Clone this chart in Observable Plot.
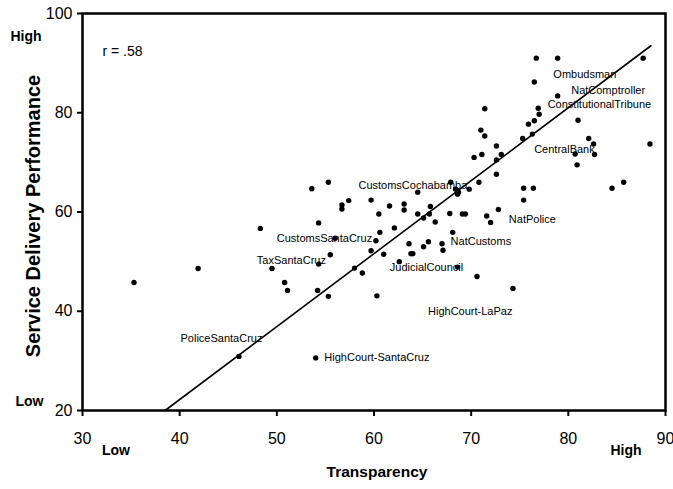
<!DOCTYPE html>
<html><head><meta charset="utf-8">
<script src="https://cdn.jsdelivr.net/npm/d3@7"></script>
<script src="https://cdn.jsdelivr.net/npm/@observablehq/plot@0.6"></script>
<style>body{margin:0;background:#fff}</style>
</head><body><div id="chart"></div>
<script>
const transparency = [35.3,41.9,48.3,49.5,50.8,51.1,54.3,55.5,54.2,55.3,46.1,54.0,53.6,55.3,54.3,56.0,56.7,56.7,57.4,59.7,61.6,60.5,62.1,60.6,60.2,59.7,61.0,58.0,58.8,60.3,62.6,63.1,63.1,64.5,64.5,65.1,65.8,65.7,66.3,67.8,69.1,69.4,71.6,72.0,72.8,63.6,63.8,64.0,65.1,65.6,67.0,67.1,68.1,68.6,70.6,74.3,67.9,68.4,68.7,68.6,69.8,70.8,72.6,72.6,72.6,73.1,70.3,71.1,71.0,71.4,71.4,75.3,76.3,75.9,76.5,76.9,77.0,76.5,76.7,78.9,78.9,87.7,81.0,82.1,82.6,80.7,82.7,80.9,88.4,84.5,85.7,75.4,76.4,75.4];
const performance = [45.8,48.6,56.7,48.6,45.8,44.2,49.5,51.4,44.2,43.0,30.9,30.6,64.7,66.0,57.8,54.7,61.4,60.6,62.3,62.4,61.2,59.6,56.8,55.9,54.2,52.2,51.5,48.7,47.7,43.1,50.0,61.6,60.4,64.0,59.6,58.8,61.1,59.6,58.0,59.7,59.6,59.6,59.2,57.9,60.5,53.6,51.6,51.6,53.0,54.0,53.6,52.3,55.9,48.9,47.0,44.6,66.0,64.6,64.0,63.6,64.6,66.0,67.6,73.3,70.5,71.6,71.0,71.6,76.5,75.3,80.8,74.8,75.7,77.7,78.4,80.9,79.7,86.2,91.0,91.0,83.4,91.0,78.5,74.8,73.7,71.7,71.6,69.5,73.7,64.8,66.0,64.8,64.8,62.4];

const labelNames = ["Ombudsman","NatComptroller","ConstitutionalTribune","CentralBank","NatPolice","NatCustoms","JudicialCouncil","HighCourt-LaPaz","HighCourt-SantaCruz","PoliceSantaCruz","TaxSantaCruz","CustomsSantaCruz","CustomsCochabamba"];
const labelX = [81.7,84.1,83.2,79.6,76.3,71.0,65.4,69.9,60.3,44.3,51.5,54.9,64.0];
const labelY = [87.8,84.4,81.6,72.6,58.4,54.0,48.9,39.9,30.7,34.6,50.3,54.7,65.3];

const fitX = [38.5, 88.5];
const fitY = [20, 93.5];

const xTicks = [30,40,50,60,70,80,90];
const yTicks = [20,40,60,80,100];
const xTitle = "Transparency";
const yTitle = "Service Delivery Performance";
const lowHigh = ["Low","High"];
const rText = "r = .58";

const points = transparency.map((x, i) => ({x, y: performance[i]}));
const labels = labelNames.map((t, i) => ({t, x: labelX[i], y: labelY[i]}));
const fit = fitX.map((x, i) => ({x, y: fitY[i]}));

const chart = Plot.plot({
  width: 673, height: 489,
  marginLeft: 82, marginRight: 8, marginTop: 13, marginBottom: 79,
  x: {domain: [30, 90], axis: null},
  y: {domain: [20, 100], axis: null},
  style: {fontFamily: "'Liberation Sans', Arial, sans-serif", background: "#fff", color: "#000"},
  marks: [
    Plot.axisX({ticks: xTicks, tickSize: 6, tickPadding: 16, fontSize: 16, strokeWidth: 2, label: null}),
    Plot.axisY({ticks: yTicks, tickSize: 5, tickPadding: 5, fontSize: 16, strokeWidth: 2, label: null}),
    Plot.line(fit, {x: "x", y: "y", stroke: "#000", strokeWidth: 1.6}),
    Plot.dot(points, {x: "x", y: "y", r: 2.7, fill: "#000", stroke: null}),
    Plot.text(labels, {x: "x", y: "y", text: "t", fontSize: 11, textAnchor: "middle", lineAnchor: "middle", fill: "#000"}),
    Plot.frame({stroke: "#000", strokeWidth: 2.5}),
    Plot.text([rText], {frameAnchor: "top-left", dx: 20, dy: 38, textAnchor: "start", lineAnchor: "middle", fontSize: 14}),
    Plot.text([xTitle], {frameAnchor: "bottom", dx: 3, dy: 62, textAnchor: "middle", lineAnchor: "middle", fontSize: 15.5, fontWeight: "bold"}),
    Plot.text([yTitle], {frameAnchor: "left", dx: -49, dy: 4, rotate: -90, textAnchor: "middle", lineAnchor: "middle", fontSize: 20, fontWeight: "bold"}),
    Plot.text([lowHigh[1]], {frameAnchor: "top-left", dx: -56.5, dy: 23, textAnchor: "middle", lineAnchor: "middle", fontSize: 14, fontWeight: "bold"}),
    Plot.text([lowHigh[0]], {frameAnchor: "bottom-left", dx: -53, dy: -9, textAnchor: "middle", lineAnchor: "middle", fontSize: 14, fontWeight: "bold"}),
    Plot.text([lowHigh[0]], {frameAnchor: "bottom-left", dx: 33.5, dy: 40, textAnchor: "middle", lineAnchor: "middle", fontSize: 14, fontWeight: "bold"}),
    Plot.text([lowHigh[1]], {frameAnchor: "bottom-right", dx: -39.5, dy: 40, textAnchor: "middle", lineAnchor: "middle", fontSize: 14, fontWeight: "bold"})
  ]
});
document.getElementById("chart").appendChild(chart);
</script>
</body></html>
